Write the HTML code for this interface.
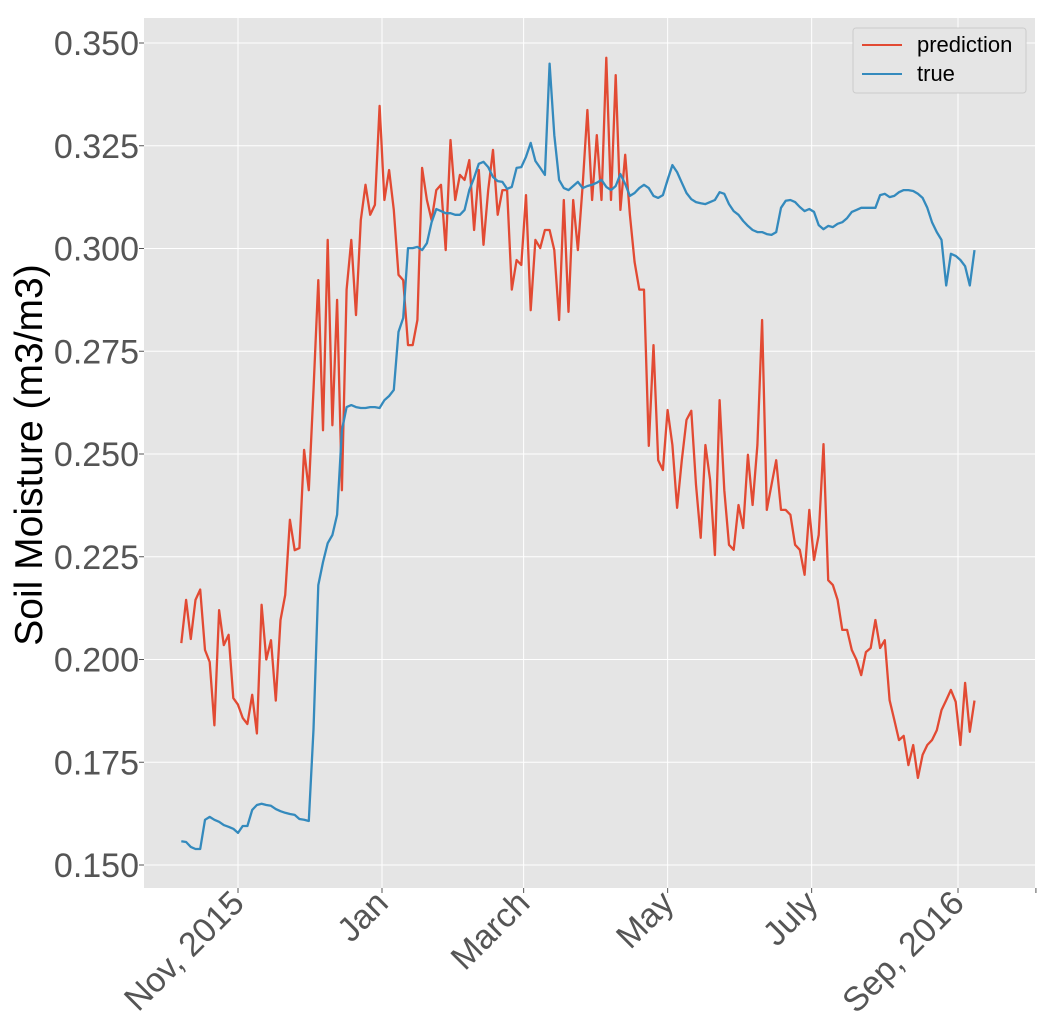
<!DOCTYPE html>
<html><head><meta charset="utf-8"><style>
html,body{margin:0;padding:0;background:#fff;}
svg{display:block;font-family:"Liberation Sans",sans-serif;}
</style></head><body>
<svg id="chart" width="1055" height="1033" viewBox="0 0 1055 1033" xmlns="http://www.w3.org/2000/svg">
<rect x="144" y="18" width="891" height="870" fill="#e5e5e5"/>
<g id="grid"></g><g id="axes"></g><g id="series"></g>
<text transform="translate(42,455) rotate(-90)" text-anchor="middle" font-size="39" fill="#000">Soil Moisture (m3/m3)</text>
<g>
<rect x="853" y="28" width="173" height="65" rx="3" fill="#e5e5e5" stroke="#cccccc"/>
<line x1="862" y1="45" x2="902" y2="45" stroke="#e24a33" stroke-width="2"/>
<text x="917" y="52" font-size="22" fill="#000">prediction</text>
<line x1="862" y1="74" x2="902" y2="74" stroke="#348abd" stroke-width="2"/>
<text x="917" y="81" font-size="22" fill="#000">true</text>
</g>
</svg>
<script>
// start date 2015-10-08, one value every 2 days
const startDay = -24; // days relative to 2015-11-01
const stepDays = 2;
const prediction = [.204,.2145,.205,.2145,.217,.2023,.1994,.184,.212,.2035,.206,.1906,.189,.1858,.1843,.1914,.182,.2133,.2,.2047,.19,.2096,.2157,.234,.2266,.2271,.251,.2412,.2656,.2923,.2558,.3021,.257,.2875,.2412,.29,.3021,.2838,.3069,.3155,.3082,.3106,.3347,.3118,.3191,.3094,.2936,.2923,.2765,.2765,.2826,.3196,.3118,.3069,.3142,.3155,.2996,.3264,.3118,.3179,.3167,.3215,.3045,.3191,.3009,.3142,.324,.3082,.3142,.3142,.29,.2972,.296,.313,.285,.3021,.3001,.3045,.3045,.2996,.2826,.3118,.2846,.3118,.2996,.3155,.3337,.3118,.3276,.3118,.3464,.3118,.3422,.3094,.3228,.3082,.2967,.29,.29,.252,.2765,.2485,.2461,.2607,.2522,.2369,.2485,.2583,.2605,.2425,.2296,.2522,.2437,.2254,.2631,.2412,.2279,.2267,.2376,.232,.2498,.2376,.2522,.2826,.2364,.2425,.2485,.2364,.2364,.2352,.2279,.2267,.2206,.2364,.2242,.2303,.2524,.2193,.2181,.2145,.2072,.2072,.2023,.1999,.1962,.2018,.2028,.2096,.2028,.2047,.1901,.1853,.1804,.1814,.1743,.1792,.1712,.1768,.1792,.1804,.1828,.1877,.1901,.1926,.1897,.1792,.1943,.1824,.19];
const trueVals = [.1558,.1556,.1544,.1539,.1539,.161,.1617,.161,.1605,.1597,.1593,.1588,.1578,.1595,.1595,.1634,.1646,.1649,.1646,.1644,.1636,.1631,.1627,.1624,.1622,.1612,.161,.1607,.183,.2181,.2237,.2283,.2303,.2352,.2558,.2614,.2619,.2614,.2612,.2612,.2614,.2614,.2612,.2631,.2641,.2656,.2797,.2831,.3001,.3001,.3004,.2996,.3013,.3064,.3096,.3091,.3086,.3086,.3082,.3082,.3094,.3142,.3172,.3206,.3211,.3198,.3174,.3164,.3162,.3145,.315,.3196,.3198,.3223,.3257,.3213,.3196,.3179,.345,.3276,.3167,.3147,.3142,.3152,.3162,.3147,.3152,.3155,.316,.3167,.315,.3142,.3152,.3181,.3157,.3128,.3135,.3147,.3155,.3147,.3128,.3123,.313,.3167,.3203,.3186,.316,.3135,.312,.3113,.311,.3108,.3113,.3118,.3137,.3133,.3108,.3091,.3082,.3067,.3055,.3045,.304,.304,.3035,.3033,.304,.3099,.3116,.3118,.3113,.3101,.3091,.3096,.3089,.3057,.3047,.3055,.3052,.306,.3064,.3074,.3089,.3094,.3099,.3099,.3099,.3099,.313,.3133,.3125,.3128,.3137,.3142,.3142,.314,.3133,.3123,.3099,.3064,.304,.3021,.291,.2987,.2982,.2972,.2957,.291,.2996];
const yTicks = [0.150,0.175,0.200,0.225,0.250,0.275,0.300,0.325,0.350];
const xTickDays = [0,61,121,182,243,305,338];
const xTickLabels = ["Nov, 2015","Jan","March","May","July","Sep, 2016",""];

const NS="http://www.w3.org/2000/svg";
function yS(v){return 865 - (v-0.150)*4110;}
function xS(d){return 238 + d*2.3607;}
function mk(tag,attrs,parent){const e=document.createElementNS(NS,tag);for(const k in attrs)e.setAttribute(k,attrs[k]);parent.appendChild(e);return e;}
const grid=document.getElementById('grid'), axes=document.getElementById('axes'), series=document.getElementById('series');
yTicks.forEach(v=>{
  const l=mk('line',{x1:144,x2:1035,y1:yS(v),y2:yS(v),stroke:'#fff','stroke-width':1},grid);
  
  
  const t=mk('line',{x1:139,x2:144,y1:yS(v),y2:yS(v),stroke:'#555'},axes);
  
  
  const tx=mk('text',{x:139,y:yS(v)+12,'text-anchor':'end','font-size':34,fill:'#555'},axes);
  tx.textContent=v.toFixed(3);
  
  
});
xTickDays.forEach((d,i)=>{
  const x=xS(d);
  const l=mk('line',{x1:x,x2:x,y1:18,y2:888,stroke:'#fff','stroke-width':1},grid);
  
  
  const t=mk('line',{x1:x,x2:x,y1:888,y2:893,stroke:'#555'},axes);
  
  
  if(xTickLabels[i]){
    const tx=mk('text',{transform:`translate(${x+8},${905}) rotate(-45)`,'text-anchor':'end','font-size':34,fill:'#555'},axes);
    tx.textContent=xTickLabels[i];
    
    
  }
});
function path(vals){return vals.map((v,i)=>(i?'L':'M')+xS(startDay+i*stepDays).toFixed(1)+','+yS(v).toFixed(1)).join(' ');}
const pp=mk('path',{d:path(prediction),fill:'none',stroke:'#e24a33','stroke-width':2.3,'stroke-linejoin':'round'},series);


const tp=mk('path',{d:path(trueVals),fill:'none',stroke:'#348abd','stroke-width':2.3,'stroke-linejoin':'round'},series);


</script>
</body></html>
